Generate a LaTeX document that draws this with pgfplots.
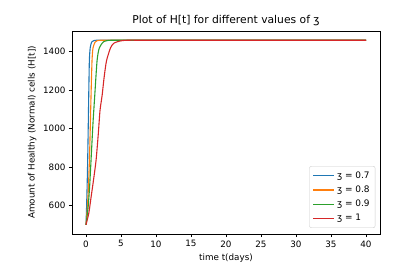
\documentclass[border=0pt]{standalone}
\usepackage{pgfplots}
\pgfplotsset{compat=1.18}
\usepackage{fontspec}
\setmainfont{DejaVu Sans}
\definecolor{mblue}{HTML}{1F77B4}
\definecolor{morange}{HTML}{FF7F0E}
\definecolor{mgreen}{HTML}{2CA02C}
\definecolor{mred}{HTML}{D62728}
\begin{document}
\begin{tikzpicture}
\begin{axis}[
  scale only axis, width=308bp, height=203bp,
  xmin=-2, xmax=42, ymin=452, ymax=1508,
  xtick={0,5,...,40}, ytick={600,800,...,1400},
  tick align=outside, tick pos=left,
  major tick length=3bp,
  axis line style={black, line width=0.6pt},
  every tick/.style={black, line width=0.6pt},
  /pgf/number format/assume math mode=true,
  /pgf/number format/1000 sep={},
  tick label style={font=\fontsize{8.8}{10}\selectfont},
  title={Plot of H[t] for different values of ʒ},
  title style={font=\fontsize{10.8}{12}\selectfont, yshift=-4bp},
  xlabel={time t(days)},
  ylabel={Amount of Healthy (Normal) cells (H[t])},
  label style={font=\fontsize{8.8}{10}\selectfont},
  legend style={at={(0.985,0.03)}, anchor=south east, draw=black!20, rounded corners=2pt,
    font=\fontsize{9}{10}\selectfont, row sep=2bp, inner sep=3.5bp},
  legend cell align=left,
  legend image code/.code={\draw[#1, line width=1.1pt] (0bp,0bp) -- (21bp,0bp);},
  every axis plot/.append style={line width=1.1pt, smooth, tension=0.4},
]
\addplot[mblue] coordinates {(0,500) (0.08,590) (0.16,700) (0.24,836) (0.32,1010) (0.39,1172) (0.48,1353) (0.6,1420) (0.8,1450) (1.1,1458) (1.5,1460) (3,1460) (10,1460) (20,1460) (30,1460) (40,1460)};
\addlegendentry{ʒ = 0.7}
\addplot[morange] coordinates {(0,500) (0.2,590) (0.35,700) (0.49,836) (0.6,990) (0.72,1172) (0.86,1353) (1.0,1420) (1.3,1450) (1.6,1458) (2.2,1460) (4,1460) (10,1460) (20,1460) (30,1460) (40,1460)};
\addlegendentry{ʒ = 0.8}
\addplot[mgreen] coordinates {(0,500) (0.3,590) (0.52,700) (0.72,836) (1.0,1030) (1.25,1172) (1.58,1353) (1.9,1420) (2.5,1452) (3.2,1459) (4,1460) (6,1460) (10,1460) (20,1460) (30,1460) (40,1460)};
\addlegendentry{ʒ = 0.9}
\addplot[mred] coordinates {(0,500) (0.4,560) (0.75,650) (1.1,740) (1.44,836) (1.75,970) (2.0,1094) (2.3,1172) (2.6,1270) (2.93,1353) (3.5,1420) (4.0,1445) (5,1457) (6,1460) (8,1460) (10,1460) (20,1460) (30,1460) (40,1460)};
\addlegendentry{ʒ = 1}
\end{axis}
\path (current axis.south west) ++(-72bp,-39bp) coordinate (bbsw);
\path (current axis.north east) ++(16bp,31bp) coordinate (bbne);
\useasboundingbox (bbsw) rectangle (bbne);
\end{tikzpicture}
\end{document}
